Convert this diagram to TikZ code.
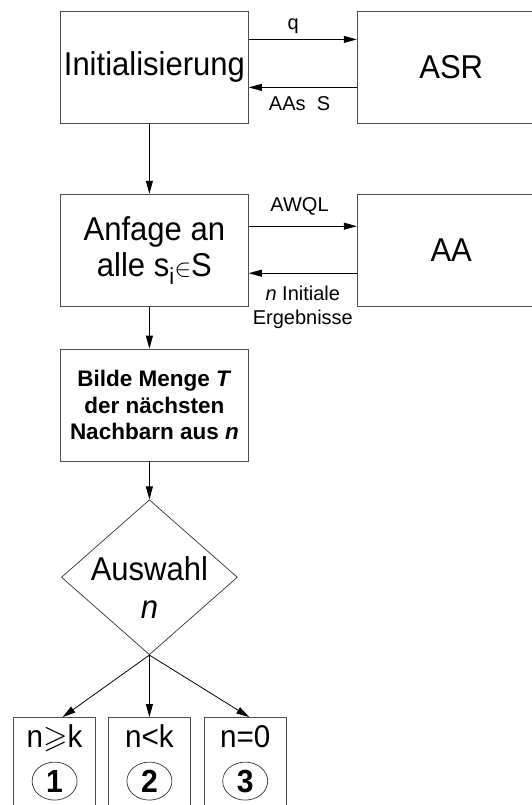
\documentclass[tikz,border=0pt]{standalone}
\usepackage{amsmath,amssymb}
\usepackage{fontspec}
\setmainfont{Liberation Sans}
\newfontfamily\bigfont{Liberation Sans}[FakeStretch=0.94]
\usetikzlibrary{shapes.geometric, arrows.meta, positioning, calc}

\begin{document}
\begin{tikzpicture}[
    % Process boxes (left column and partners on the right)
    box/.style={rectangle, draw=black!70, line width=0.8pt,
                minimum width=188pt, minimum height=112pt, inner sep=2pt,
                align=center, font=\bigfont\fontsize{33}{36}\selectfont},
    % Decision diamond (text is set as a label, it overlaps the outline a bit)
    decision/.style={diamond, draw=black!80, line width=0.7pt,
                     minimum width=176pt, minimum height=155pt, inner sep=0pt},
    % Result boxes at the bottom (text sits at the top)
    casebox/.style={rectangle, draw=black!70, line width=0.8pt,
                    minimum width=82pt, text height=30pt, text depth=80pt,
                    inner sep=0pt, align=center,
                    font=\bigfont\fontsize{31.5}{34}\selectfont},
    % Numbered circles (slightly flat)
    numcircle/.style={ellipse, draw=black!80, line width=0.7pt,
                      minimum width=45pt, minimum height=38pt, inner sep=0pt,
                      font=\bigfont\bfseries\fontsize{32}{34}\selectfont},
    % Connector labels
    lbl/.style={inner sep=0pt, align=center, font=\fontsize{20}{24}\selectfont},
    arrow/.style={-{Triangle[length=13pt, width=7pt]}, line width=0.8pt, black},
    node distance=108pt
]

\useasboundingbox (0pt,0pt) rectangle (532pt,-805pt);
\clip (0pt,0pt) rectangle (532pt,-805pt);

%-------- UPPER ROWS --------
\node[box, anchor=north west] at (60pt,-11pt) (init) {Initialisierung};
\node[box, right=of init] (asr) {ASR};
\node[box, below=70pt of init] (anfage) {Anfage an\\alle s\textsubscript{i}$\in$S};
\node[box, right=of anfage] (aa) {AA};
\node[box, below=42pt of anfage, font=\bfseries\fontsize{22.5}{26.5}\selectfont] (bilde)
    {Bilde Menge \textit{T}\\der n\"achsten\\Nachbarn aus \textit{n}};

%-------- DECISION --------
\node[decision, below=38pt of bilde, xshift=-5pt,
      label={[lbl, font=\bigfont\fontsize{33}{38}\selectfont, yshift=-10pt]center:{Auswahl\\\textit{n}}}]
    (auswahl) {};

%-------- CASES --------
\node[casebox, below=62pt of auswahl] (case2) {n<k};
\node[casebox, left=12pt of case2] (case1) {n$\geqslant$k};
\node[casebox, right=13pt of case2] (case3) {n=0};
\node[numcircle] at ([yshift=-64pt]case1.north) (num1) {1};
\node[numcircle] at ([yshift=-64pt]case2.north) (num2) {2};
\node[numcircle] at ([yshift=-64pt]case3.north) (num3) {3};

%-------- ARROWS: main flow --------
\draw[arrow] (init.south -| auswahl)   -- (anfage.north -| auswahl);
\draw[arrow] (anfage.south -| auswahl) -- (bilde.north -| auswahl);
\draw[arrow] (bilde.south -| auswahl)  -- (auswahl.north);
\draw[arrow] (auswahl.south) -- ([xshift=8pt]case1.north);
\draw[arrow] (auswahl.south) -- (case2.north -| auswahl);
\draw[arrow] (auswahl.south) -- ([xshift=4pt]case3.north);

%-------- ARROWS: requests and answers --------
\draw[arrow] ([yshift=28pt]init.east) -- ([yshift=28pt]init.east -| asr.west)
    node[lbl, pos=0.41, above=5pt] (qlbl) {q};
\draw[arrow] ([yshift=-20pt]init.east -| asr.west) -- ([yshift=-20pt]init.east)
    node[lbl, pos=0.53, below=9pt] (aaslbl) {AAs\ \ S};
\draw[arrow] ([yshift=24pt]anfage.east) -- ([yshift=24pt]anfage.east -| aa.west)
    node[lbl, pos=0.47, above=11pt] (awqllbl) {AWQL};
\draw[arrow] ([yshift=-23pt]anfage.east -| aa.west) -- ([yshift=-23pt]anfage.east)
    node[lbl, pos=0.5, below=12pt] (erglbl) {\textit{n} Initiale\\Ergebnisse};

\end{tikzpicture}
\end{document}
